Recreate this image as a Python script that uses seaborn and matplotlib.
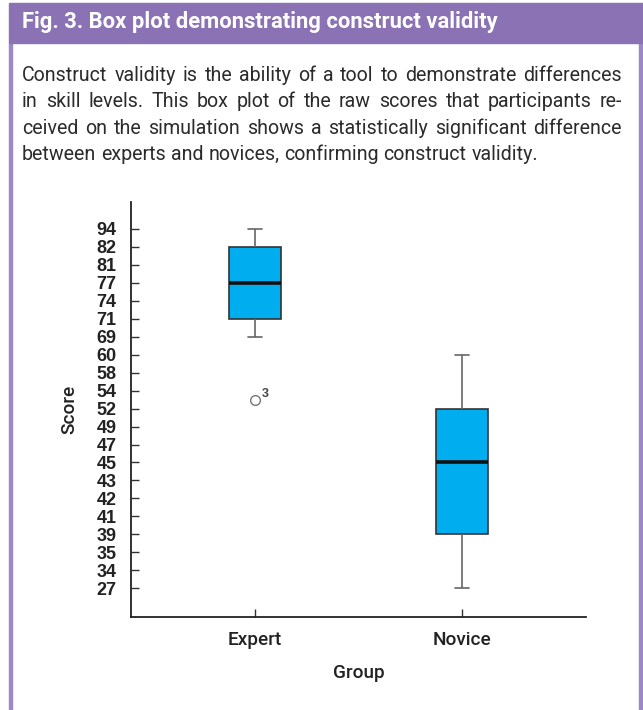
import numpy as np
import pandas as pd
import matplotlib
matplotlib.use('Agg')
import matplotlib.pyplot as plt
import seaborn as sns
from matplotlib.patches import Rectangle
from matplotlib.transforms import IdentityTransform

# --- DATA ---
SCORE_TICKS = [94, 82, 81, 77, 74, 71, 69, 60, 58, 54, 52, 49, 47, 45, 43, 42, 41, 39, 35, 34, 27]
GROUPS = ['Expert', 'Novice']
EXPERT_SCORES = [53, 69, 71, 74, 77, 81, 82, 82, 94]
NOVICE_SCORES = [27, 34, 35, 39, 39, 41, 42, 43, 45, 47, 49, 52, 52, 54, 58, 60, 60]
OUTLIER_CASE = '3'

TITLE = 'Fig. 3. Box plot demonstrating construct validity'
CAPTION = [
    'Construct validity is the ability of a tool to demonstrate differences',
    'in skill levels. This box plot of the raw scores that participants re-',
    'ceived on the simulation shows a statistically significant difference',
    'between experts and novices, confirming construct validity.',
]
# --------------

W, H = 643, 710
PURPLE = '#8A72B4'
BORDER = '#9C88C6'
BOX_BLUE = '#00AEEF'
ARIAL = 'Liberation Sans'

sns.set_style('white')
plt.rcParams['font.family'] = ['Roboto', 'DejaVu Sans']

fig = plt.figure(figsize=(W / 100, H / 100), dpi=100)
px = IdentityTransform()
renderer = fig.canvas.get_renderer()


def fit_size(text, target, base=15, **kw):
    # font size that makes the text span `target` pixels
    t = fig.text(0, 0, text, fontsize=base, **kw)
    w = t.get_window_extent(renderer).width
    t.remove()
    return base * target / w


# frame and header band
fig.patches.append(Rectangle((9, 0), 3, H - 43, transform=px, color=BORDER, zorder=0))
fig.patches.append(Rectangle((639, 0), 3, H - 43, transform=px, color=BORDER, zorder=0))
fig.patches.append(Rectangle((9, H - 43), W - 9, 40, transform=px, color=PURPLE, zorder=0))
title_fs = fit_size(TITLE, 478, fontweight='bold')
fig.text(22, H - 28, TITLE, transform=px, color='white', fontsize=title_fs,
         fontweight='bold', va='baseline', ha='left')

cap_fs = min(15, fit_size(max(CAPTION, key=len), 582))


def put_line(text, x0, x1, y, justify):
    words = text.split(' ')
    arts = [fig.text(0, y, w, transform=px, fontsize=cap_fs, color='#2b2b2b', va='baseline')
            for w in words]
    widths = [a.get_window_extent(renderer).width for a in arts]
    probe = fig.text(0, 0, 'a a', fontsize=cap_fs)
    probe2 = fig.text(0, 0, 'aa', fontsize=cap_fs)
    space = probe.get_window_extent(renderer).width - probe2.get_window_extent(renderer).width
    probe.remove()
    probe2.remove()
    gap = (x1 - x0 - sum(widths)) / (len(words) - 1) if justify else space
    x = x0
    for a, w in zip(arts, widths):
        a.set_x(x)
        x += w + gap


for i, line in enumerate(CAPTION):
    put_line(line, 22, 622, H - (81 + i * 26.3), justify=i < len(CAPTION) - 1)

# --- box plot on the ordinal score axis ---
ascending = sorted(SCORE_TICKS)
df = pd.DataFrame({
    'Group': ['Expert'] * len(EXPERT_SCORES) + ['Novice'] * len(NOVICE_SCORES),
    'Score': EXPERT_SCORES + NOVICE_SCORES,
})
df['Position'] = np.interp(df['Score'], ascending, np.arange(len(ascending)))

ax = fig.add_axes([131 / W, 1 - 617 / H, (586 - 131) / W, (617 - 202) / H])
sns.boxplot(data=df, x='Group', y='Position', order=GROUPS, ax=ax,
            whis=1.0, width=0.25, color=BOX_BLUE, saturation=1,
            linecolor='#333333', linewidth=1.2, capwidths=0.07,
            flierprops=dict(marker='o', markersize=7, markerfacecolor='none',
                            markeredgecolor='#777777', markeredgewidth=1),
            medianprops=dict(color='#111111', linewidth=2.6),
            whiskerprops=dict(color='#666666', linewidth=1.2),
            capprops=dict(color='#666666', linewidth=1.2))

# case label next to the outlier
expert = df[df['Group'] == 'Expert']['Position']
q1, q3 = np.percentile(expert, [25, 75])
outlier = expert[expert < q1 - 1.0 * (q3 - q1)].min()
ax.text(0.03, outlier + 0.32, OUTLIER_CASE, fontsize=9, fontweight='bold',
        color='#444444', family=ARIAL, va='center', ha='left')

tick_fs = fit_size('94', 20, base=12, family=ARIAL, fontweight='bold')
tick_pos = np.interp(SCORE_TICKS, ascending, np.arange(len(ascending)))
ax.set_yticks(tick_pos)
ax.set_yticklabels([str(s) for s in SCORE_TICKS], fontweight='bold',
                   family=ARIAL, fontsize=tick_fs, color='#222222')
ax.set_xlim(-0.6, 1.6)
ax.set_ylim(-1.6, 21.5)
ax.tick_params(axis='both', direction='in', length=6, width=1, color='#333333', left=True, bottom=True)
xfs = fit_size('Expert', 54, fontweight='medium')
ax.tick_params(axis='x', labelcolor='#222222', pad=10)
for lab in ax.get_xticklabels():
    lab.set_fontsize(xfs)
    lab.set_fontweight('medium')
ax.tick_params(axis='y', pad=10.5)
for side in ['top', 'right']:
    ax.spines[side].set_visible(False)
for side in ['left', 'bottom']:
    ax.spines[side].set_color('#222222')
    ax.spines[side].set_linewidth(1.3)
ax.set_xlabel('Group', fontsize=xfs, fontweight='medium', color='#222222', labelpad=11)
ax.set_ylabel('Score', fontsize=xfs, fontweight='medium', color='#222222', labelpad=13)

fig.savefig('out.png', dpi=100)
